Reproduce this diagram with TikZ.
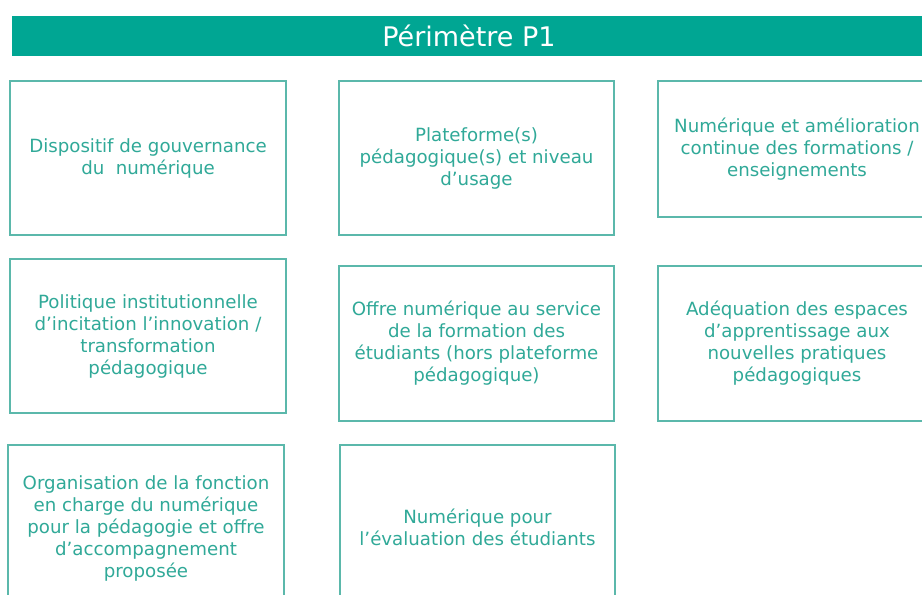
\documentclass[tikz,border=0pt]{standalone}
\usepackage{fontspec}
\setmainfont{DejaVu Sans}
\definecolor{hdr}{HTML}{00A693}
\definecolor{bord}{HTML}{5BB8AB}
\definecolor{txt}{HTML}{30A998}
\begin{document}
\begin{tikzpicture}[x=1pt,y=-1pt,
  card/.style={draw=bord, line width=1.6pt, text=txt, align=center,
    font=\fontsize{18.2}{22}\selectfont, inner sep=0pt},
  banner/.style={fill=hdr, text=white, inner sep=0pt,
    font=\fontsize{27}{30}\selectfont}]
\useasboundingbox (0,0) rectangle (922,595);
\fill[white] (0,0) rectangle (922,595);
\node[banner, minimum width=914pt, minimum height=40pt] (head) at (469,36) {Périmètre P1};
\node[card, minimum width=276pt, minimum height=154pt] (a) at (148,158)
  {Dispositif de gouvernance\\du~~numérique};
\node[card, minimum width=275pt, minimum height=154pt] (b) at (476.5,158)
  {Plateforme(s)\\pédagogique(s) et niveau\\d’usage};
\node[card, minimum width=278pt, minimum height=136pt] (c) at (797,149)
  {Numérique et amélioration\\continue des formations /\\enseignements};
\node[card, minimum width=276pt, minimum height=154pt] (d) at (148,336)
  {Politique institutionnelle\\d’incitation l’innovation /\\transformation\\pédagogique};
\node[card, minimum width=275pt, minimum height=155pt] (e) at (476.5,343.5)
  {Offre numérique au service\\de la formation des\\étudiants (hors plateforme\\pédagogique)};
\node[card, minimum width=278pt, minimum height=155pt] (f) at (797,343.5)
  {Adéquation des espaces\\d’apprentissage aux\\nouvelles pratiques\\pédagogiques};
\node[card, minimum width=276pt, minimum height=166pt] (g) at (146,528)
  {Organisation de la fonction\\en charge du numérique\\pour la pédagogie et offre\\d’accompagnement\\proposée};
\node[card, minimum width=275pt, minimum height=164pt] (h) at (477.5,527)
  {Numérique pour\\l’évaluation des étudiants};
\end{tikzpicture}
\end{document}
